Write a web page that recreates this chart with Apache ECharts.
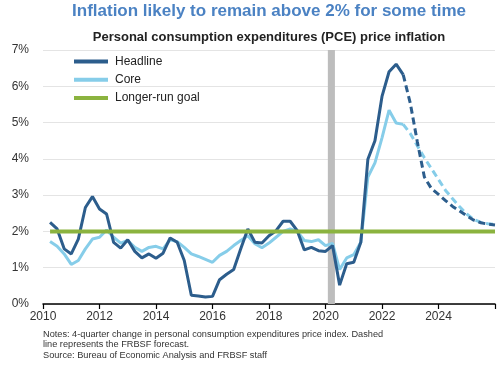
<!DOCTYPE html>
<html>
<head>
<meta charset="utf-8">
<script src="https://cdn.jsdelivr.net/npm/echarts@6/dist/echarts.min.js"></script>
<style>
html,body{margin:0;padding:0;background:#fff;}
#chart{width:500px;height:365px;}
</style>
</head>
<body>
<div id="chart"></div>
<script>
// ---- Data ----
const firstYear = 2010;            // first quarter shown: 2010Q1
const headline = [
  2.25, 2.07, 1.52, 1.38,
  1.79, 2.66, 2.96, 2.62,
  2.48, 1.70, 1.54, 1.77,
  1.45, 1.27, 1.38, 1.26,
  1.40, 1.82, 1.70, 1.20,
  0.24, 0.22, 0.19, 0.21,
  0.67, 0.82, 0.95, 1.52,
  2.07, 1.70, 1.68, 1.88,
  2.02, 2.28, 2.28, 2.02,
  1.49, 1.56, 1.47, 1.45,
  1.61, 0.52, 1.11, 1.15,
  1.70, 3.99, 4.50, 5.72,
  6.40, 6.61, 6.32
];
const core = [
  1.72, 1.59, 1.38, 1.09,
  1.20, 1.52, 1.79, 1.84,
  2.04, 1.84, 1.68, 1.75,
  1.56, 1.45, 1.56, 1.59,
  1.52, 1.77, 1.72, 1.56,
  1.38, 1.31, 1.23, 1.15,
  1.34, 1.45, 1.61, 1.75,
  1.88, 1.66, 1.55, 1.68,
  1.84, 2.00, 2.07, 2.00,
  1.75, 1.72, 1.77, 1.61,
  1.67, 0.95, 1.27, 1.36,
  1.70, 3.50, 3.89, 4.58,
  5.34, 4.99, 4.95
];
// forecast from 2022Q3 through 2025Q4
const forecastStart = '2022Q3';
const headlineForecast = [6.32, 5.54, 4.47, 3.50, 3.18, 3.02, 2.85, 2.69, 2.56, 2.43, 2.31, 2.24, 2.20, 2.18];
const coreForecast     = [4.95, 4.70, 4.36, 4.03, 3.73, 3.43, 3.13, 2.90, 2.68, 2.48, 2.33, 2.25, 2.21, 2.19];
const goalValue = 2;
const goalSpan = ['2010Q1', '2025Q4'];
const recession = ['2020-02', '2020-04'];
const xTicks = [2010, 2012, 2014, 2016, 2018, 2020, 2022, 2024];
const yTicks = [0, 1, 2, 3, 4, 5, 6, 7];

const titleText = 'Inflation likely to remain above 2% for some time';
const subtitleText = 'Personal consumption expenditures (PCE) price inflation';
const notesText = 'Notes: 4-quarter change in personal consumption expenditures price index. Dashed\nline represents the FRBSF forecast.\nSource: Bureau of Economic Analysis and FRBSF staff';

// ---- helpers: quarter label -> position on time scale (plotted at quarter end) ----
function qPos(label) {
  const y = parseInt(label.slice(0, 4), 10);
  const q = parseInt(label.slice(5), 10);
  return y + q * 0.25;
}
function mPos(label) {
  const y = parseInt(label.slice(0, 4), 10);
  const m = parseInt(label.slice(5), 10);
  return y + (m - 1) / 12;
}
function quarterLabels(startYear, startQ, n) {
  const out = [];
  let y = startYear, q = startQ;
  for (let i = 0; i < n; i++) {
    out.push(y + 'Q' + q);
    q++; if (q > 4) { q = 1; y++; }
  }
  return out;
}
const actualQuarters = quarterLabels(firstYear, 1, headline.length);
const forecastQuarters = quarterLabels(parseInt(forecastStart.slice(0,4),10), parseInt(forecastStart.slice(5),10), headlineForecast.length);
const pairs = (labels, vals) => labels.map((l, i) => [qPos(l), vals[i]]);

const C_HEAD = '#2c5d8c';
const C_CORE = '#86cde9';
const C_GOAL = '#8bb33f';

const chart = echarts.init(document.getElementById('chart'), null, {renderer: 'canvas'});
chart.setOption({
  animation: false,
  backgroundColor: '#ffffff',
  grid: {left: 43, right: 5, top: 50, bottom: 61, containLabel: false},
  graphic: [
    {type: 'text', x: 269, y: 3, style: {text: titleText, textAlign: 'center', fill: '#4b82c3', font: 'bold 17px "Liberation Sans", Arial, sans-serif'}},
    {type: 'text', x: 269, y: 31, style: {text: subtitleText, textAlign: 'center', fill: '#222', font: 'bold 13px "Liberation Sans", Arial, sans-serif'}},
    {type: 'text', x: 43, y: 329, style: {text: notesText, fill: '#333', font: '9.2px "Liberation Sans", Arial, sans-serif', lineHeight: 10.5}}
  ],
  legend: {
    orient: 'vertical', left: 74, top: 54.5, padding: 0,
    itemWidth: 34, itemHeight: 4, itemGap: 4.3,
    icon: 'rect',
    data: ['Headline', 'Core', 'Longer-run goal'],
    textStyle: {fontSize: 12, color: '#222', fontFamily: '"Liberation Sans", Arial, sans-serif', lineHeight: 14, padding: [0,0,0,2]}
  },
  xAxis: {
    type: 'value', min: 2010, max: 2026, interval: 2,
    axisLine: {show: true, lineStyle: {color: '#000', width: 1.5}},
    axisTick: {show: true, length: 5, lineStyle: {color: '#000', width: 1.2}},
    splitLine: {show: false},
    axisLabel: {
      color: '#333', fontSize: 12, margin: 7, fontFamily: '"Liberation Sans", Arial, sans-serif',
      formatter: v => (xTicks.indexOf(v) >= 0 ? String(v) : '')
    }
  },
  yAxis: {
    type: 'value', min: yTicks[0], max: yTicks[yTicks.length-1], interval: 1,
    axisLine: {show: false}, axisTick: {show: false},
    splitLine: {show: true, lineStyle: {color: '#e4e4e4', width: 1}},
    axisLabel: {color: '#333', fontSize: 12, margin: 14, fontFamily: '"Liberation Sans", Arial, sans-serif', formatter: '{value}%'}
  },
  series: [
    {
      name: 'Core', type: 'line', data: pairs(actualQuarters, core), showSymbol: false, symbol: 'none',
      lineStyle: {color: C_CORE, width: 3}, itemStyle: {color: C_CORE}, z: 3,
      markArea: {silent: true, itemStyle: {color: '#bdbdbd'}, data: [[{xAxis: mPos(recession[0])}, {xAxis: mPos(recession[1]) + 1/12}]]}
    },
    {
      name: 'Core forecast', type: 'line', data: pairs(forecastQuarters, coreForecast), showSymbol: false, symbol: 'none',
      lineStyle: {color: C_CORE, width: 3, type: [7, 4]}, itemStyle: {color: C_CORE}, z: 3
    },
    {
      name: 'Headline', type: 'line', data: pairs(actualQuarters, headline), showSymbol: false, symbol: 'none',
      lineStyle: {color: C_HEAD, width: 3}, itemStyle: {color: C_HEAD}, z: 4
    },
    {
      name: 'Headline forecast', type: 'line', data: pairs(forecastQuarters, headlineForecast), showSymbol: false, symbol: 'none',
      lineStyle: {color: C_HEAD, width: 3, type: [7, 4]}, itemStyle: {color: C_HEAD}, z: 4
    },
    {
      name: 'Longer-run goal', type: 'line', data: [[qPos(goalSpan[0]), goalValue], [qPos(goalSpan[1]), goalValue]], showSymbol: false, symbol: 'none',
      lineStyle: {color: C_GOAL, width: 4}, itemStyle: {color: C_GOAL}, z: 5
    }
  ]
});
</script>
</body>
</html>
